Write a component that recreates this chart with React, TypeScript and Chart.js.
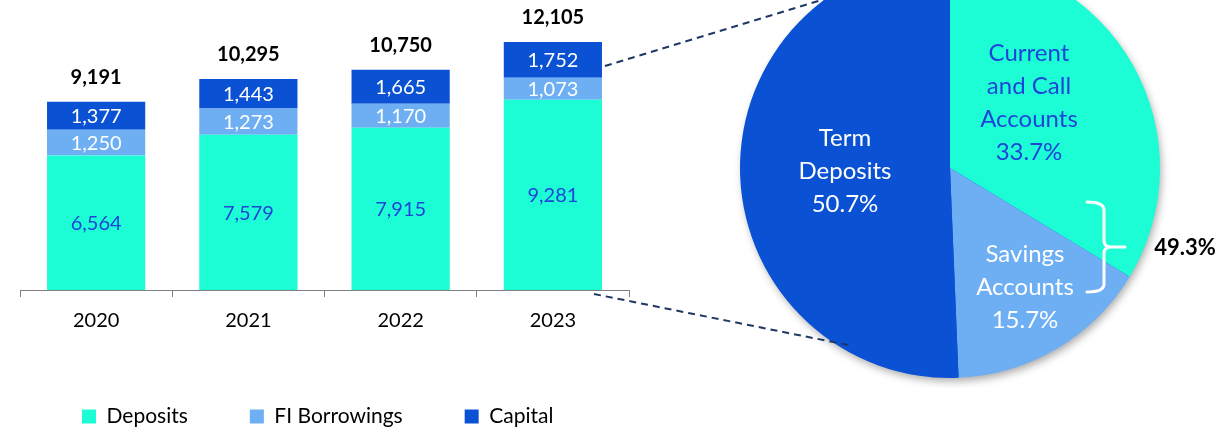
import React, { useEffect, useRef } from 'react';
import { Chart, registerables } from 'chart.js';

Chart.register(...registerables);

// ---------- data ----------
const years = ['2020', '2021', '2022', '2023'];
const deposits = [6564, 7579, 7915, 9281];
const fiBorrowings = [1250, 1273, 1170, 1073];
const capital = [1377, 1443, 1665, 1752];
const totals = [9191, 10295, 10750, 12105];

const pieNames = [['Current', 'and Call', 'Accounts'], ['Savings', 'Accounts'], ['Term', 'Deposits']];
const pieShares = [33.7, 15.7, 50.7];
const bracketShare = '49.3%';

// ---------- styles ----------
const FONT = 'Lato, "Open Sans", sans-serif';
const TEAL = '#1CFDD6';
const LIGHT = '#6DAFF2';
const DARK = '#0B51D3';
const LABEL_BLUE = '#1F45D6';

const fmt = (v: number) => v.toLocaleString('en-US');

// label anchors in fractions of pie radius, relative to the pie centre
const PIE_LABEL_POS: [number, number][] = [[0.376, -0.31], [0.357, 0.567], [-0.5, 0.014]];
const PIE_LABEL_COLORS = [LABEL_BLUE, '#FFFFFF', '#FFFFFF'];

const barLabelPlugin = {
  id: 'barLabels',
  afterDatasetsDraw(chart: any) {
    const ctx = chart.ctx;
    ctx.save();
    ctx.textAlign = 'center';
    ctx.textBaseline = 'middle';
    chart.data.datasets.forEach((ds: any, di: number) => {
      const meta = chart.getDatasetMeta(di);
      meta.data.forEach((bar: any, i: number) => {
        const { x, y, base } = bar.getProps(['x', 'y', 'base'], true);
        ctx.font = `20px ${FONT}`;
        ctx.fillStyle = di === 0 ? LABEL_BLUE : '#FFFFFF';
        ctx.fillText(fmt(ds.data[i]), x, (y + base) / 2 + 1);
      });
    });
    const topMeta = chart.getDatasetMeta(chart.data.datasets.length - 1);
    ctx.font = `bold 20px ${FONT}`;
    ctx.fillStyle = '#000000';
    topMeta.data.forEach((bar: any, i: number) => {
      ctx.fillText(fmt(totals[i]), bar.x, bar.y - 24);
    });
    ctx.restore();
  },
};

const pieShadowPlugin = {
  id: 'pieShadow',
  beforeDatasetsDraw(chart: any) {
    const arc = chart.getDatasetMeta(0).data[0];
    if (!arc) return;
    const { x, y, outerRadius } = arc.getProps(['x', 'y', 'outerRadius'], true);
    const ctx = chart.ctx;
    ctx.save();
    ctx.shadowColor = 'rgba(0,0,0,0.35)';
    ctx.shadowBlur = 8;
    ctx.shadowOffsetX = 2;
    ctx.shadowOffsetY = 4;
    ctx.fillStyle = DARK;
    ctx.beginPath();
    ctx.arc(x, y, outerRadius - 1, 0, Math.PI * 2);
    ctx.fill();
    ctx.restore();
  },
};

const pieLabelPlugin = {
  id: 'pieLabels',
  afterDatasetsDraw(chart: any) {
    const arc = chart.getDatasetMeta(0).data[0];
    if (!arc) return;
    const { x: cx, y: cy, outerRadius: r } = arc.getProps(['x', 'y', 'outerRadius'], true);
    const ctx = chart.ctx;
    ctx.save();
    ctx.textAlign = 'center';
    ctx.textBaseline = 'middle';
    ctx.font = `24px ${FONT}`;
    pieNames.forEach((lines, i) => {
      const [fx, fy] = PIE_LABEL_POS[i];
      const lx = cx + fx * r;
      const ly = cy + fy * r;
      const all = [...lines, `${pieShares[i].toFixed(1)}%`];
      const n = all.length;
      ctx.fillStyle = PIE_LABEL_COLORS[i];
      all.forEach((t, k) => ctx.fillText(t, lx, ly + (k - (n - 1) / 2) * 33));
    });

    // curly bracket
    const bx = cx + 154;
    const top = cy + 34;
    const bot = cy + 124;
    const mid = cy + 79;
    const hx = cx + 137;
    ctx.strokeStyle = '#FFFFFF';
    ctx.lineWidth = 3;
    ctx.lineCap = 'round';
    ctx.beginPath();
    ctx.moveTo(hx, top);
    ctx.quadraticCurveTo(bx, top, bx, top + 8);
    ctx.lineTo(bx, mid - 6);
    ctx.quadraticCurveTo(bx, mid, bx + 8, mid);
    ctx.lineTo(bx + 21, mid);
    ctx.moveTo(bx + 8, mid);
    ctx.quadraticCurveTo(bx, mid, bx, mid + 6);
    ctx.lineTo(bx, bot - 8);
    ctx.quadraticCurveTo(bx, bot, hx, bot);
    ctx.stroke();

    ctx.font = `bold 22px ${FONT}`;
    ctx.fillStyle = '#000000';
    ctx.fillText(bracketShare, cx + 235, mid + 1);
    ctx.restore();
  },
};

export default function App() {
  const barRef = useRef<HTMLCanvasElement>(null);
  const pieRef = useRef<HTMLCanvasElement>(null);

  useEffect(() => {
    const bar = new Chart(barRef.current as HTMLCanvasElement, {
      type: 'bar',
      data: {
        labels: years,
        datasets: [
          { label: 'Deposits', data: deposits, backgroundColor: TEAL, borderWidth: 0 },
          { label: 'FI Borrowings', data: fiBorrowings, backgroundColor: LIGHT, borderWidth: 0 },
          { label: 'Capital', data: capital, backgroundColor: DARK, borderWidth: 0 },
        ],
      },
      options: {
        responsive: false,
        animation: false,
        events: [],
        layout: { padding: { left: 20, right: 3, top: 0, bottom: 0 } },
        datasets: { bar: { categoryPercentage: 1, barPercentage: 0.645 } },
        scales: {
          x: {
            stacked: true,
            afterFit: (s: any) => { s.height = 54; },
            grid: { offset: true, drawOnChartArea: false, drawTicks: true, tickLength: 7, color: '#808080', lineWidth: 1 },
            border: { display: true, color: '#808080', width: 1 },
            ticks: { color: '#000000', padding: 12, font: { family: FONT, size: 20 } },
          },
          y: { stacked: true, display: false, min: 0, max: 14150 },
        },
        plugins: {
          tooltip: { enabled: false },
          legend: {
            position: 'bottom',
            align: 'start',
            maxHeight: 86,
            labels: {
              boxWidth: 14,
              boxHeight: 14,
              padding: 62,
              color: '#000000',
              font: { family: FONT, size: 21 },
            },
          },
        },
      },
      plugins: [barLabelPlugin],
    } as any);

    const pie = new Chart(pieRef.current as HTMLCanvasElement, {
      type: 'pie',
      data: {
        labels: pieNames.map((l) => l.join(' ')),
        datasets: [
          {
            data: pieShares,
            backgroundColor: [TEAL, LIGHT, DARK],
            borderWidth: 0,
            hoverBorderWidth: 0,
            hoverOffset: 0,
            radius: 210,
          },
        ],
      },
      options: {
        responsive: false,
        animation: false,
        events: [],
        layout: { padding: { left: 0, right: 56, top: 0, bottom: 0 } },
        plugins: { legend: { display: false }, tooltip: { enabled: false } },
      },
      plugins: [pieShadowPlugin, pieLabelPlugin],
    } as any);

    return () => {
      bar.destroy();
      pie.destroy();
    };
  }, []);

  return (
    <div
      style={{
        position: 'absolute',
        left: 0,
        top: 0,
        width: 1226,
        height: 430,
        overflow: 'hidden',
        background: '#FFFFFF',
      }}
    >
      <canvas ref={barRef} width={632} height={430} style={{ position: 'absolute', left: 0, top: 0 }} />
      <canvas ref={pieRef} width={496} height={440} style={{ position: 'absolute', left: 730, top: -52 }} />
      <svg
        width={1226}
        height={430}
        style={{ position: 'absolute', left: 0, top: 0, pointerEvents: 'none' }}
      >
        <line x1={605} y1={66} x2={828} y2={-2} stroke="#1F3864" strokeWidth={2} strokeDasharray="7 5" />
        <line x1={594} y1={294} x2={848} y2={345} stroke="#1F3864" strokeWidth={2} strokeDasharray="7 5" />
      </svg>
    </div>
  );
}
